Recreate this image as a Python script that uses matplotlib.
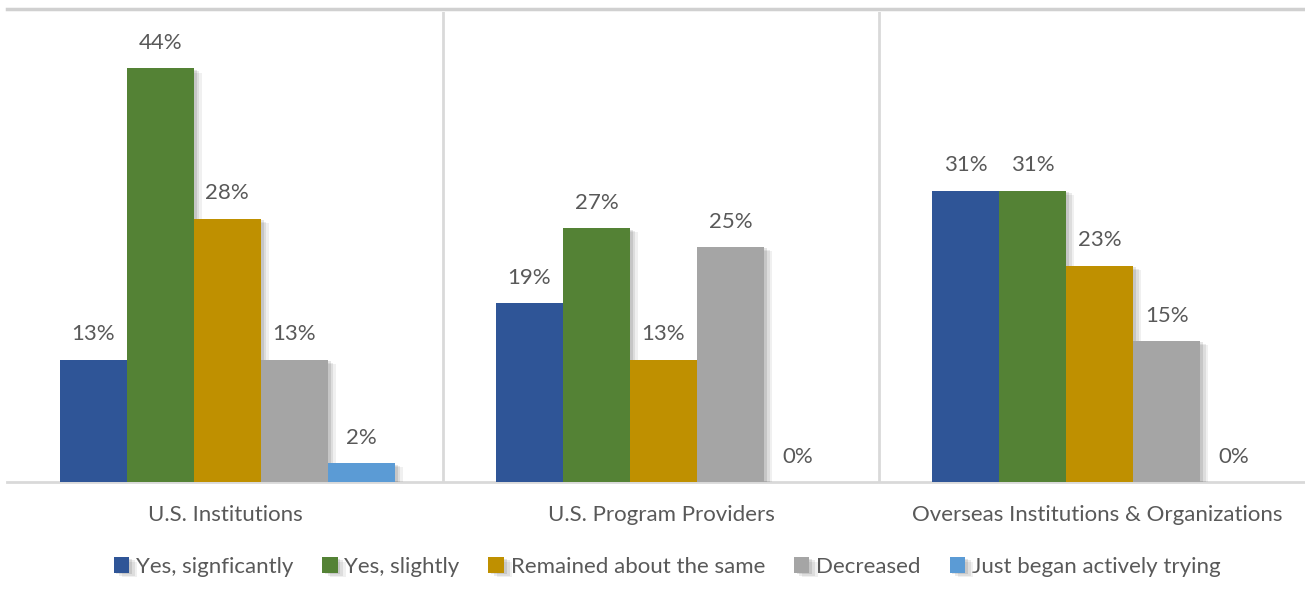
import numpy as np
import matplotlib
matplotlib.use("Agg")
import matplotlib.pyplot as plt
import matplotlib.patheffects as pe
from matplotlib.lines import Line2D

# data
groups = ["U.S. Institutions", "U.S. Program Providers", "Overseas Institutions & Organizations"]
series = ["Yes, signficantly", "Yes, slightly", "Remained about the same", "Decreased",
          "Just began actively trying"]
yes_sig = [13, 19, 31]
yes_slight = [44, 27, 31]
same = [28, 13, 23]
decreased = [13, 25, 15]
just_began = [2, 0, 0]
colors = ["#2F5597", "#548235", "#BF9000", "#A5A5A5", "#5B9BD5"]

values = [yes_sig, yes_slight, same, decreased, just_began]

plt.rcParams["font.family"] = ["Lato", "DejaVu Sans"]
txt_color = "#595959"
grid_color = "#D9D9D9"
fs = 16

fig = plt.figure(figsize=(13.05, 5.98), dpi=100)
ax = fig.add_axes([7 / 1305, (598 - 482) / 598, 1298 / 1305, (482 - 12) / 598])

x = np.arange(len(groups))
width = 0.1537
shadow = [pe.SimplePatchShadow(offset=(6, -3), shadow_rgbFace="k", alpha=0.06),
          pe.SimplePatchShadow(offset=(4, -2), shadow_rgbFace="k", alpha=0.08),
          pe.SimplePatchShadow(offset=(2, -1), shadow_rgbFace="k", alpha=0.1),
          pe.Normal()]

for i, (name, vals, c) in enumerate(zip(series, values, colors)):
    pos = x + (i - 2) * width + 0.005
    bars = ax.bar(pos, vals, width, color=c, label=name, zorder=3)
    for b, v in zip(bars, vals):
        if v > 0:
            b.set_path_effects(shadow)
        ax.text(b.get_x() + b.get_width() / 2, v + 2.7, f"{v}%", ha="center", va="center",
                fontsize=fs, color=txt_color)

ax.set_ylim(0, 50)
ax.set_xlim(-0.5, 2.476)
ax.set_yticks([])
ax.set_xticks([])
for s in ["top", "left", "right"]:
    ax.spines[s].set_visible(False)
ax.spines["bottom"].set_color(grid_color)
ax.spines["bottom"].set_linewidth(2)

for sep in [0.5, 1.5]:
    ax.axvline(sep, color=grid_color, lw=2, zorder=1)

for xi, g in zip(x, groups):
    ax.text(xi, -3.5, g, ha="center", va="center", fontsize=fs, color=txt_color)

fig.add_artist(Line2D([7 / 1305, 1], [1 - 9 / 598, 1 - 9 / 598], color="#D0D0D0", lw=2.5))

leg = fig.legend(loc="center", bbox_to_anchor=(667 / 1305, 1 - 567 / 598), ncol=5, frameon=False,
                 fontsize=fs, handlelength=0.7, handleheight=0.7, handletextpad=0.3,
                 columnspacing=1.3)
for t in leg.get_texts():
    t.set_color(txt_color)

fig.savefig("out.png", dpi=100)
